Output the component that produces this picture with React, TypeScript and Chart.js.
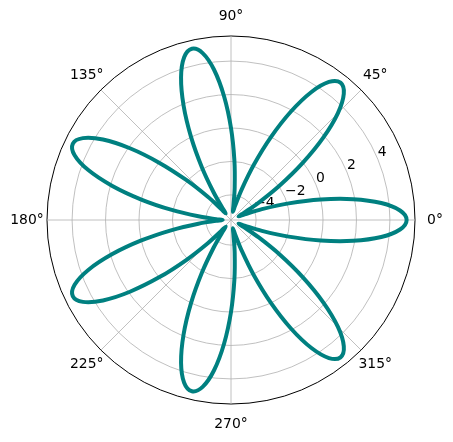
import React, { useEffect, useRef } from "react";
import { Chart, registerables } from "chart.js";

Chart.register(...registerables);

// angle tick labels (degrees, counter-clockwise from east)
const thetaTicks = [0, 45, 90, 135, 180, 225, 270, 315];
// radial tick labels and limits
const rTicks = [-4, -2, 0, 2, 4];
const rMin = -5.5;
const rMax = 5.5;

// radius every 360/112 degrees (7 petals, 16 samples each)
const radius = [
  5, 4.62, 3.54, 1.91, 0, -1.91, -3.54, -4.62, -5, -4.62, -3.54, -1.91, 0, 1.91, 3.54, 4.62,
  5, 4.62, 3.54, 1.91, 0, -1.91, -3.54, -4.62, -5, -4.62, -3.54, -1.91, 0, 1.91, 3.54, 4.62,
  5, 4.62, 3.54, 1.91, 0, -1.91, -3.54, -4.62, -5, -4.62, -3.54, -1.91, 0, 1.91, 3.54, 4.62,
  5, 4.62, 3.54, 1.91, 0, -1.91, -3.54, -4.62, -5, -4.62, -3.54, -1.91, 0, 1.91, 3.54, 4.62,
  5, 4.62, 3.54, 1.91, 0, -1.91, -3.54, -4.62, -5, -4.62, -3.54, -1.91, 0, 1.91, 3.54, 4.62,
  5, 4.62, 3.54, 1.91, 0, -1.91, -3.54, -4.62, -5, -4.62, -3.54, -1.91, 0, 1.91, 3.54, 4.62,
  5, 4.62, 3.54, 1.91, 0, -1.91, -3.54, -4.62, -5, -4.62, -3.54, -1.91, 0, 1.91, 3.54, 4.62,
];
const angleLabels = radius.map((_, i) => String((360 - (i * 360) / radius.length) % 360));
const step = radius.length / thetaTicks.length; // samples between 45° grid lines

const GRID = "#b0b0b0";
const FONT = "13.9px 'DejaVu Sans'";

const polarText = {
  id: "polarText",
  beforeDatasetsDraw(chart: any) {
    const s = chart.scales.r;
    const ctx = chart.ctx;
    ctx.save();
    ctx.fillStyle = "#000";
    ctx.font = FONT;
    // radial labels along 22.5°
    const a = (22.5 * Math.PI) / 180;
    ctx.textAlign = "left";
    ctx.textBaseline = "alphabetic";
    rTicks.forEach((v) => {
      const d = s.getDistanceFromCenterForValue(v);
      ctx.fillText(String(v).replace("-", "\u2212"), s.xCenter + d * Math.cos(a), s.yCenter - d * Math.sin(a) - 3);
    });
    // angle labels outside the circle
    ctx.textAlign = "center";
    ctx.textBaseline = "middle";
    thetaTicks.forEach((t) => {
      const r = s.drawingArea + 20;
      const rad = (t * Math.PI) / 180;
      ctx.fillText(t + "°", s.xCenter + r * Math.cos(rad), s.yCenter - r * Math.sin(rad));
    });
    ctx.restore();
  },
};

export default function App() {
  const canvasRef = useRef<HTMLCanvasElement | null>(null);

  useEffect(() => {
    document.body.style.margin = "0";
    if (!canvasRef.current) return;
    const chart = new Chart(canvasRef.current, {
      type: "radar",
      data: {
        labels: angleLabels,
        datasets: [
          {
            data: radius,
            borderColor: "#008080",
            borderWidth: 4,
            pointRadius: 0,
            fill: false,
            tension: 0.35,
          },
        ],
      },
      options: {
        responsive: false,
        animation: false,
        devicePixelRatio: 1,
        layout: { padding: { left: 47, right: 37, top: 36, bottom: 37 } },
        plugins: { legend: { display: false }, tooltip: { enabled: false } },
        scales: {
          r: {
            min: rMin,
            max: rMax,
            startAngle: 90,
            afterBuildTicks: (scale: any) => {
              scale.ticks = [rMin, ...rTicks, rMax].map((value) => ({ value }));
            },
            ticks: { display: false },
            pointLabels: { display: false },
            grid: {
              circular: true,
              color: (c: any) => (c.tick && c.tick.value === rMax ? "#000" : GRID),
              lineWidth: (c: any) => (c.tick && c.tick.value === rMax ? 1 : 0.8),
            },
            angleLines: {
              color: (c: any) => (c.index % step === 0 ? GRID : "rgba(0,0,0,0)"),
              lineWidth: (c: any) => (c.index % step === 0 ? 0.8 : 0),
            },
          },
        },
      } as any,
      plugins: [polarText],
    });
    return () => chart.destroy();
  }, []);

  return <canvas ref={canvasRef} width={453} height={442} style={{ display: "block" }} />;
}
